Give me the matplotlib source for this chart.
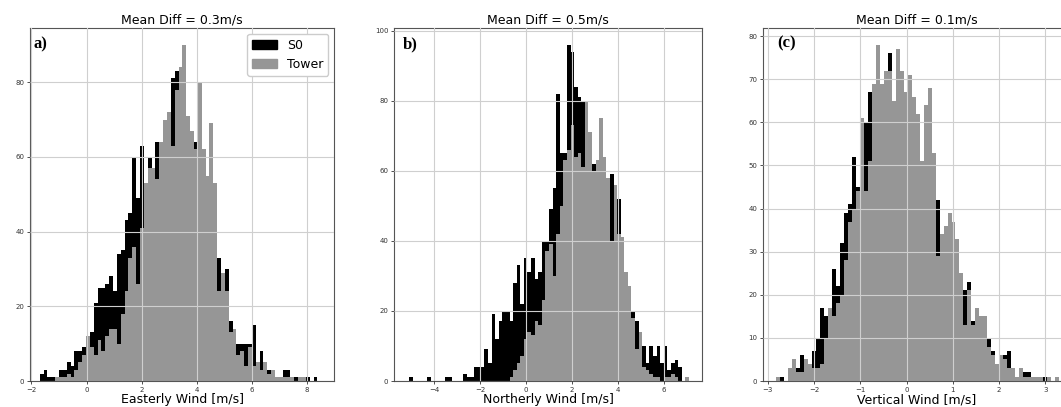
import numpy as np
import matplotlib
matplotlib.use("Agg")
import matplotlib.pyplot as plt
from matplotlib.patches import Patch

# ---------------- data (histogram counts) ----------------
# Panel a: Easterly wind
a_start, a_width = -1.70, 0.14
a_s0 = [2, 3, 1, 1, 1, 3, 3, 5, 4, 8,
        8, 9, 11, 13, 21, 25, 25, 26, 28, 24,
        34, 35, 43, 45, 60, 49, 63, 50, 60, 55,
        64, 60, 66, 70, 81, 83, 80, 80, 66, 62,
        64, 60, 58, 52, 50, 48, 33, 20, 30, 16,
        13, 10, 10, 10, 10, 15, 5, 8, 4, 3,
        2, 1, 0, 3, 3, 1, 1, 1, 1, 1,
        0, 1]
a_tower = [0, 0, 0, 0, 1, 1, 1, 2, 1, 3,
           5, 7, 12, 9, 7, 11, 8, 12, 14, 14,
           10, 18, 24, 33, 36, 26, 41, 53, 57, 57,
           54, 64, 70, 72, 63, 78, 84, 90, 71, 67,
           62, 80, 62, 55, 69, 53, 24, 29, 24, 13,
           14, 7, 8, 4, 9, 4, 5, 3, 5, 2,
           3, 1, 1, 1, 1, 1, 0, 1, 1, 0,
           0, 0]

# Panel b: Northerly wind
b_start, b_width = -5.08, 0.156
b_s0 = [1, 0, 0, 0, 0, 1, 0, 0, 0, 0,
        1, 1, 0, 0, 0, 2, 1, 1, 4, 4,
        4, 9, 5, 19, 12, 17, 20, 20, 17, 28,
        33, 22, 35, 31, 35, 29, 31, 40, 40, 49,
        55, 82, 65, 65, 96, 94, 84, 81, 80, 72,
        61, 62, 60, 58, 55, 56, 59, 50, 52, 38,
        30, 22, 20, 17, 13, 10, 5, 10, 7, 10,
        5, 10, 3, 5, 6, 4, 0, 0]
b_tower = [0, 0, 0, 0, 0, 0, 0, 0, 0, 0,
           0, 0, 0, 0, 0, 0, 0, 0, 0, 0,
           0, 0, 0, 0, 0, 0, 0, 0, 1, 3,
           5, 7, 12, 14, 13, 17, 16, 23, 37, 39,
           30, 42, 50, 63, 66, 73, 64, 65, 61, 80,
           71, 60, 63, 75, 64, 58, 40, 56, 42, 41,
           31, 27, 18, 9, 14, 4, 3, 2, 1, 1,
           0, 1, 1, 2, 1, 0, 0, 1]

# Panel c: Vertical wind
c_start, c_width = -2.813, 0.086
c_s0 = [0, 1, 0, 0, 0, 3, 6, 3, 3, 7,
        10, 17, 15, 12, 26, 22, 32, 39, 41, 52,
        45, 55, 60, 67, 60, 70, 62, 68, 76, 60,
        70, 66, 63, 65, 60, 58, 48, 58, 60, 50,
        42, 30, 32, 35, 33, 30, 20, 21, 23, 14,
        12, 13, 10, 10, 7, 3, 5, 6, 7, 2,
        1, 1, 2, 2, 1, 0, 0, 1, 0, 0,
        0]
c_tower = [1, 0, 0, 3, 5, 2, 2, 5, 4, 3,
           3, 4, 10, 17, 15, 18, 20, 28, 37, 40,
           44, 61, 44, 51, 69, 78, 69, 72, 72, 65,
           77, 72, 67, 71, 66, 62, 51, 64, 68, 53,
           29, 34, 36, 39, 37, 33, 25, 13, 21, 13,
           17, 15, 15, 8, 6, 4, 6, 5, 3, 3,
           1, 3, 1, 1, 1, 1, 1, 0, 1, 0,
           1]

titles = ["Mean Diff = 0.3m/s", "Mean Diff = 0.5m/s", "Mean Diff = 0.1m/s"]
xlabels = ["Easterly Wind [m/s]", "Northerly Wind [m/s]", "Vertical Wind [m/s]"]
panel_tags = ["a)", "b)", "(c)"]
series_names = ["S0", "Tower"]

# ---------------- styling ----------------
W, H = 1061, 407
fig = plt.figure(figsize=(W / 100, H / 100), dpi=100)

S0_COLOR = "#000000"
TOWER_COLOR = "#969696"
GRID_COLOR = "#cfcfcf"

panels = [
    dict(box=(30, 334, 28, 381), start=a_start, width=a_width, s0=a_s0, tw=a_tower,
         xlim=(-2.05, 8.98), ylim=(0, 94.5), xticks=np.arange(-2, 9, 2),
         yticks=np.arange(0, 81, 20), tag_pos=(0.012, 0.975)),
    dict(box=(394, 702, 28, 381), start=b_start, width=b_width, s0=b_s0, tw=b_tower,
         xlim=(-5.74, 7.66), ylim=(0, 100.8), xticks=np.arange(-4, 7, 2),
         yticks=np.arange(0, 101, 20), tag_pos=(0.028, 0.977)),
    dict(box=(763, 1070, 28, 381), start=c_start, width=c_width, s0=c_s0, tw=c_tower,
         xlim=(-3.10, 3.53), ylim=(0, 81.9), xticks=np.arange(-3, 4, 1),
         yticks=np.arange(0, 81, 10), tag_pos=(0.045, 0.98)),
]

for i, p in enumerate(panels):
    l, r, t, b = p["box"]
    ax = fig.add_axes([l / W, 1 - b / H, (r - l) / W, (b - t) / H])
    n = len(p["s0"])
    lefts = p["start"] + p["width"] * np.arange(n)
    ax.bar(lefts, p["s0"], width=p["width"], align="edge", color=S0_COLOR,
           linewidth=0, label=series_names[0])
    ax.bar(lefts, p["tw"], width=p["width"], align="edge", color=TOWER_COLOR,
           linewidth=0, label=series_names[1])
    ax.set_xlim(*p["xlim"])
    ax.set_ylim(*p["ylim"])
    ax.set_xticks(p["xticks"])
    ax.set_yticks(p["yticks"])
    ax.set_axisbelow(False)
    ax.grid(True, color=GRID_COLOR, linewidth=0.8)
    ax.tick_params(labelsize=5, length=2.5, width=0.6, pad=1.5, colors="#333333")
    for sp in ax.spines.values():
        sp.set_color("#555555")
        sp.set_linewidth(0.8)
    ax.set_title(titles[i], fontsize=9, pad=3)
    ax.set_xlabel(xlabels[i], fontsize=9, labelpad=0.5)
    ax.text(p["tag_pos"][0], p["tag_pos"][1], panel_tags[i], transform=ax.transAxes,
            ha="left", va="top", fontsize=12, fontweight="bold",
            family="Liberation Serif", zorder=6)
    if i == 0:
        handles = [Patch(color=S0_COLOR, label=series_names[0]),
                   Patch(color=TOWER_COLOR, label=series_names[1])]
        leg = ax.legend(handles=handles, loc="upper right", fontsize=9,
                        handlelength=2.0, borderaxespad=0.45, framealpha=1.0)
        leg.get_frame().set_edgecolor("#cccccc")

fig.savefig("out.png", dpi=100)
